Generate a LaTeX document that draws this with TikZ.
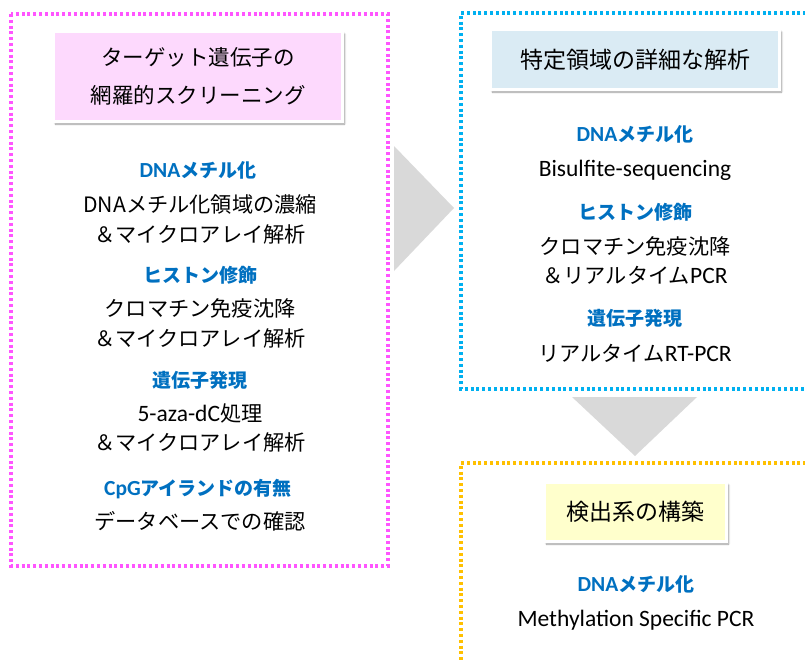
\documentclass[tikz,border=0pt]{standalone}
\usepackage{fontspec}
\setmainfont{Carlito}
\newfontfamily\jp{Noto Sans CJK JP}
\usetikzlibrary{shadows.blur}
\definecolor{mag}{HTML}{FF55FF}
\definecolor{cya}{HTML}{00B0F0}
\definecolor{org}{HTML}{FFC000}
\definecolor{hblue}{HTML}{0070C0}
\definecolor{pinkfill}{HTML}{FDD9FD}
\definecolor{bluefill}{HTML}{DAEBF4}
\definecolor{yellfill}{HTML}{FFFFCC}
\definecolor{arrowgray}{HTML}{D9D9D9}
\newcommand\latb[1]{{\rmfamily\fontsize{23.5}{29}\selectfont #1}}
\newcommand\lath[1]{{\rmfamily\fontsize{21.5}{24}\selectfont #1}}
\begin{document}
\begin{tikzpicture}[x=1pt,y=-1pt,
  frame/.style={line width=3.2pt, dash pattern=on 3pt off 2.8pt},
  header/.style={draw=white, line width=3pt, inner sep=0pt, align=center,
    blur shadow={shadow xshift=2pt, shadow yshift=-2.5pt, shadow blur steps=6}},
  head/.style={font=\jp\bfseries\fontsize{19}{22}\selectfont, text=hblue, inner sep=0pt},
  body/.style={font=\jp\fontsize{21.2}{29.5}\selectfont, align=center, inner sep=0pt},
  blockarrow/.style={fill=arrowgray, draw=none}
]
\useasboundingbox (0,0) rectangle (805,659);
\clip (0,0) rectangle (805,659);

% frames
\draw[frame, mag] (11,14) rectangle (388,566);
\draw[frame, cya] (812,13) -- (461,13) -- (461,389) -- (812,389);
\draw[frame, org] (812,463) -- (461,463) -- (461,665);

% block arrows
\fill[blockarrow] (394,146) -- (454,208) -- (394,271) -- cycle;
\fill[blockarrow] (572,397) -- (697,397) -- (635,456) -- cycle;

% headers
\node[header, fill=pinkfill, minimum width=289, minimum height=90,
  font=\jp\fontsize{21.5}{38}\selectfont] (lh) at (198,76.5)
  {ターゲット遺伝子の\\網羅的スクリーニング};
\node[header, fill=bluefill, minimum width=289, minimum height=60,
  font=\jp\fontsize{23}{28}\selectfont] (rh) at (635,59.5) {特定領域の詳細な解析};
\node[header, fill=yellfill, minimum width=182, minimum height=59,
  font=\jp\fontsize{23}{28}\selectfont] (bh) at (635.5,512) {検出系の構築};

% left column
\node[head] (l1h) at (198,170) {\lath{DNA}メチル化};
\node[body] (l1b) at (200,219.5) {DNAメチル化領域の濃縮\\＆マイクロアレイ解析};
\node[head] (l2h) at (200,275) {ヒストン修飾};
\node[body] (l2b) at (200,323.5) {クロマチン免疫沈降\\＆マイクロアレイ解析};
\node[head] (l3h) at (200,380) {遺伝子発現};
\node[body] (l3b) at (200,428) {\latb{5-aza-dC}処理\\＆マイクロアレイ解析};
\node[head] (l4h) at (198,489) {\lath{CpG}アイランドの有無};
\node[body] (l4b) at (200,521) {データベースでの確認};

% right column
\node[head] (r1h) at (635,134) {\lath{DNA}メチル化};
\node[body] (r1b) at (635,170) {\latb{Bisulfite-sequencing}};
\node[head] (r2h) at (635,212) {ヒストン修飾};
\node[body] (r2b) at (635,260.5) {クロマチン免疫沈降\\＆リアルタイム\latb{PCR}};
\node[head] (r3h) at (635,318) {遺伝子発現};
\node[body] (r3b) at (635,353) {リアルタイム\latb{RT-PCR}};

% bottom
\node[head] (b1h) at (636,584) {\lath{DNA}メチル化};
\node[body] (b1b) at (636,620) {\latb{Methylation Specific PCR}};
\end{tikzpicture}
\end{document}
